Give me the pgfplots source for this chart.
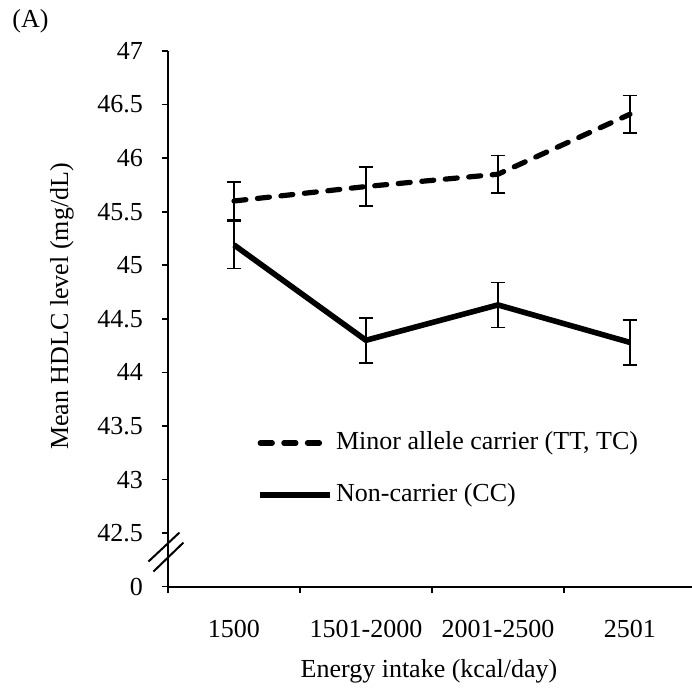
\documentclass[border=0pt]{standalone}
\usepackage{pgfplots}
\pgfplotsset{compat=1.18}
\usepackage{fontspec}
\setmainfont{Liberation Serif}
\begin{document}
\begin{tikzpicture}[font=\fontsize{13}{15}\selectfont]
\useasboundingbox (0,0) rectangle (346pt,345pt);
\begin{axis}[
  at={(84pt,51.65pt)}, anchor=south west,
  scale only axis, width=262pt, height=267.85pt,
  xmin=0.5, xmax=4.47, ymin=42, ymax=47,
  clip=false,
  axis x line=bottom, axis y line=left,
  axis line style={-, line width=1pt},
  tick align=outside,
  /pgf/number format/assume math mode=true,
  xtick={1,2,3,4}, xticklabels={1500,1501-2000,2001-2500,2501},
  minor xtick={0.5,1.5,2.5,3.5},
  ytick={42,42.5,43,43.5,44,44.5,45,45.5,46,46.5,47},
  yticklabels={0,42.5,43,43.5,44,44.5,45,45.5,46,46.5,47},
  tick style={line width=0.8pt, black},
  major x tick style={draw=none},
  major tick length=3pt, minor tick length=3pt,
  xticklabel style={yshift=-10pt},
  yticklabel style={xshift=-6pt},
  xlabel={Energy intake (kcal/day)},
  ylabel={Mean HDLC level (mg/dL)},
  xlabel style={at={(axis description cs:0.498,-0.1574)}, anchor=center},
  ylabel style={at={(axis description cs:-0.2023,0.523)}, anchor=center},
  legend style={draw=none, fill=none, at={(0.170,0.2197)}, anchor=west,
    inner sep=0pt, row sep=14pt,
    nodes={text height=9pt, text depth=3pt, inner ysep=0pt, inner xsep=1.5pt}},
  legend cell align=left,
  legend image code/.code={\draw[#1] (0pt,0pt) -- (35pt,0pt);},
  error bars/error bar style={line width=0.9pt, solid},
  error bars/error mark options={rotate=90, mark size=3.7pt, line width=0.9pt, solid},
]
\addplot[black, line width=2.6pt, dash pattern=on 6pt off 5.8pt, line cap=round,
  error bars/.cd, y dir=both, y explicit]
  coordinates {
  (1,45.60) +- (0,0.18)
  (2,45.735) +- (0,0.18)
  (3,45.85) +- (0,0.175)
  (4,46.41) +- (0,0.175)
  };
\addlegendentry{Minor allele carrier (TT, TC)}
\addplot[black, line width=2.8pt, solid,
  error bars/.cd, y dir=both, y explicit]
  coordinates {
  (1,45.19) +- (0,0.22)
  (2,44.30) +- (0,0.21)
  (3,44.63) +- (0,0.21)
  (4,44.28) +- (0,0.21)
  };
\addlegendentry{Non-carrier (CC)}
\end{axis}
\draw[line width=1pt] (74.2pt,64.2pt) -- (89.7pt,78.7pt);
\draw[line width=1pt] (76.7pt,59.2pt) -- (91.7pt,73.7pt);
\node[anchor=west, inner sep=0pt] at (6pt,334.5pt) {(A)};
\end{tikzpicture}
\end{document}
